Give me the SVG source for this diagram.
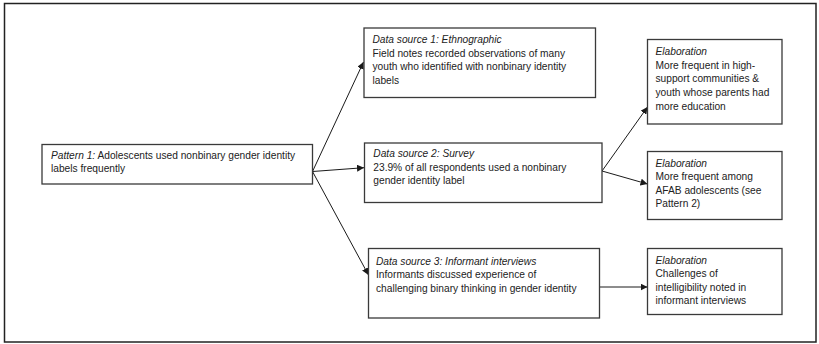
<svg xmlns="http://www.w3.org/2000/svg" width="819" height="344" viewBox="0 0 819 344">
<defs>
<marker id="ah" viewBox="0 0 10 10" refX="10" refY="5" markerWidth="7" markerHeight="7" markerUnits="userSpaceOnUse" orient="auto">
<path d="M0,0 L10,5 L0,10 z" fill="#1a1a1a"/>
</marker>
<style>
.box{fill:#fff;stroke:#3a3a3a;stroke-width:1.3}
.t{font-family:"Liberation Sans",Arial,sans-serif;font-size:10.2px;fill:#222}
.i{font-style:italic}
.c{fill:none;stroke:#1a1a1a;stroke-width:1;marker-end:url(#ah)}
</style>
</defs>
<rect x="0" y="0" width="819" height="344" fill="#fff"/>
<rect x="4.5" y="3.5" width="811.5" height="338.5" fill="none" stroke="#222" stroke-width="1.5"/>
<g id="connectors">
<line class="c" x1="312.5" y1="171.5" x2="363.5" y2="62"/>
<line class="c" x1="312.5" y1="171.5" x2="364" y2="167.7"/>
<line class="c" x1="312.5" y1="171.5" x2="368.5" y2="275"/>
<line class="c" x1="602" y1="171" x2="647.5" y2="107"/>
<line class="c" x1="602" y1="171" x2="647.5" y2="184"/>
<line class="c" x1="600" y1="287" x2="647.5" y2="287"/>
</g>
<g id="pattern1">
<rect class="box" x="42" y="144.5" width="270.5" height="39.5"/>
<text class="t" x="51" y="158.5"><tspan class="i">Pattern 1:</tspan> Adolescents used nonbinary gender identity</text>
<text class="t" x="51" y="172">labels frequently</text>
</g>
<g id="ds1">
<rect class="box" x="364" y="28" width="231.5" height="69.5"/>
<text class="t i" x="372.5" y="42.8">Data source 1: Ethnographic</text>
<text class="t" x="372.5" y="56.5">Field notes recorded observations of many</text>
<text class="t" x="372.5" y="70">youth who identified with nonbinary identity</text>
<text class="t" x="372.5" y="83.5">labels</text>
</g>
<g id="ds2">
<rect class="box" x="364.5" y="143" width="237.5" height="59.5"/>
<text class="t i" x="373.3" y="157.3">Data source 2: Survey</text>
<text class="t" x="373.3" y="170.8">23.9% of all respondents used a nonbinary</text>
<text class="t" x="373.3" y="184.3">gender identity label</text>
</g>
<g id="ds3">
<rect class="box" x="368.5" y="248.5" width="231" height="69.5"/>
<text class="t i" x="376" y="264.5">Data source 3: Informant interviews</text>
<text class="t" x="376" y="278">Informants discussed experience of</text>
<text class="t" x="376" y="291.5">challenging binary thinking in gender identity</text>
</g>
<g id="elab1">
<rect class="box" x="647.5" y="39.5" width="134.5" height="84.5"/>
<text class="t i" x="655.5" y="55">Elaboration</text>
<text class="t" x="655.5" y="68.7">More frequent in high-</text>
<text class="t" x="655.5" y="82.3">support communities &amp;</text>
<text class="t" x="655.5" y="96">youth whose parents had</text>
<text class="t" x="655.5" y="109.6">more education</text>
</g>
<g id="elab2">
<rect class="box" x="647.5" y="151.5" width="134.5" height="68"/>
<text class="t i" x="655.5" y="166.5">Elaboration</text>
<text class="t" x="655.5" y="180.2">More frequent among</text>
<text class="t" x="655.5" y="193.8">AFAB adolescents (see</text>
<text class="t" x="655.5" y="207.4">Pattern 2)</text>
</g>
<g id="elab3">
<rect class="box" x="647.5" y="248.5" width="134.5" height="66"/>
<text class="t i" x="655.5" y="263.7">Elaboration</text>
<text class="t" x="655.5" y="277.3">Challenges of</text>
<text class="t" x="655.5" y="290.8">intelligibility noted in</text>
<text class="t" x="655.5" y="304.3">informant interviews</text>
</g>
</svg>
